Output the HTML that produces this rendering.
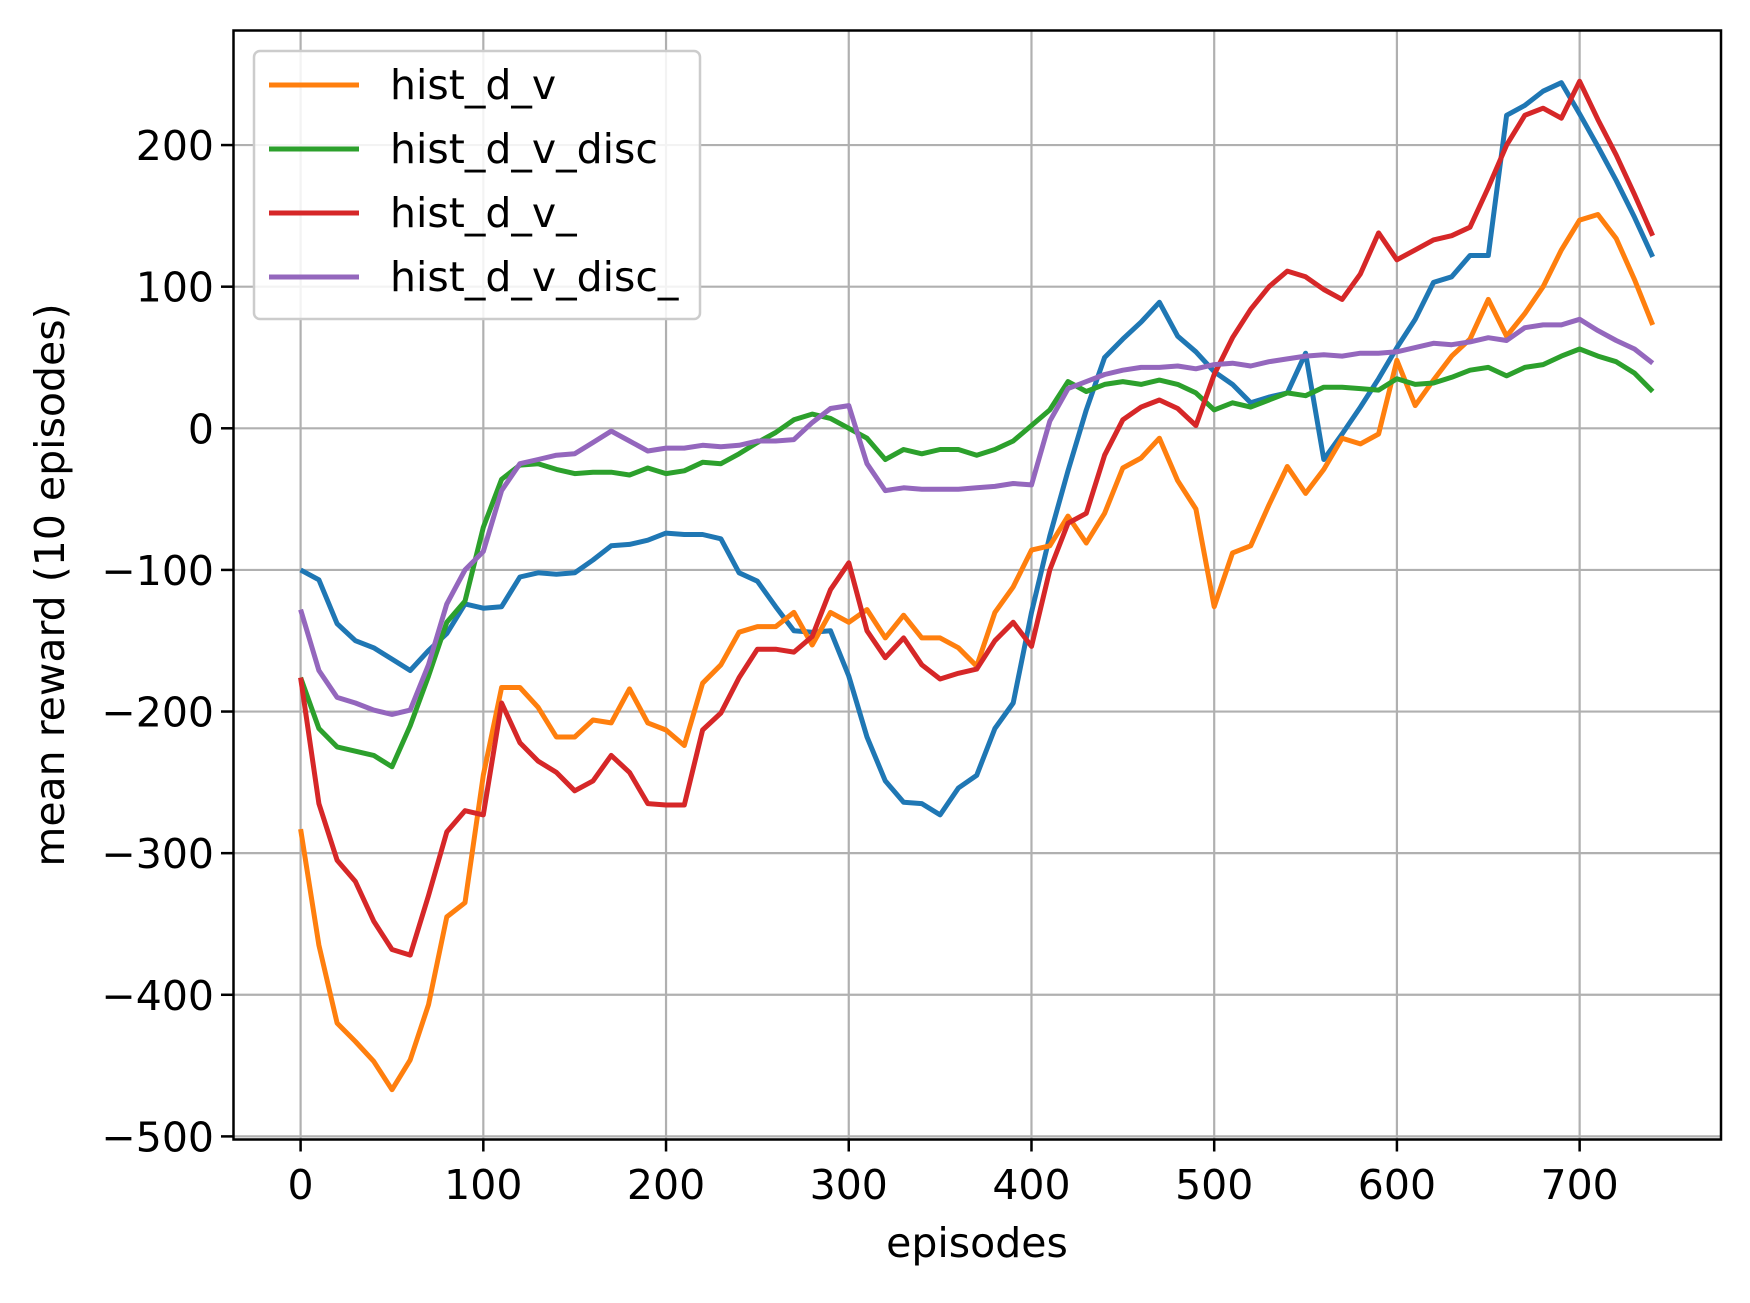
<!DOCTYPE html>
<html><head><meta charset="utf-8"><style>
html,body{margin:0;padding:0;background:#fff;}
svg text{font-family:"DejaVu Sans","Liberation Sans",sans-serif;fill:#000;}
</style></head><body>
<svg id="chart" width="1750" height="1298" viewBox="0 0 1750 1298" xmlns="http://www.w3.org/2000/svg">
<rect width="1750" height="1298" fill="#fff"/>
<g id="grid"></g>
<g id="series"></g>
<rect x="233.5" y="30.5" width="1487.5" height="1109" fill="none" stroke="#000" stroke-width="2.5"/>
<g id="ticks"></g>
<text x="977" y="1257" font-size="41" text-anchor="middle">episodes</text>
<text transform="translate(64,585) rotate(-90)" font-size="41" text-anchor="middle">mean reward (10 episodes)</text>
<g id="legend"></g>
</svg>
<script>
const episodes = Array.from({length:75},(_, i)=>i*10);
const blueVals = [-100,-107,-138,-150,-155,-163,-171,-157,-145,-124,-127,-126,-105,-102,-103,-102,-93,-83,-82,-79,-74,-75,-75,-78,-102,-108,-126,-143,-144,-143,-175,-218,-249,-264,-265,-273,-254,-245,-212,-194,-130,-76,-30,13,50,63,75,89,65,54,40,31,18,22,25,53,-22,-4,15,35,57,77,103,107,122,122,221,228,238,244,222,199,175,149,121];
const histDV = [-283,-365,-420,-433,-447,-467,-446,-407,-345,-335,-245,-183,-183,-197,-218,-218,-206,-208,-184,-208,-213,-224,-180,-167,-144,-140,-140,-130,-153,-130,-137,-128,-148,-132,-148,-148,-155,-168,-130,-112,-86,-83,-62,-81,-60,-28,-21,-7,-37,-57,-126,-88,-83,-54,-27,-46,-29,-7,-11,-4,48,16,34,51,63,91,65,81,100,126,147,151,134,105,73];
const histDVDisc = [-176,-212,-225,-228,-231,-239,-210,-175,-137,-122,-70,-36,-26,-25,-29,-32,-31,-31,-33,-28,-32,-30,-24,-25,-18,-10,-3,6,10,7,0,-7,-22,-15,-18,-15,-15,-19,-15,-9,2,13,33,26,31,33,31,34,31,25,13,18,15,20,25,23,29,29,28,27,35,31,32,36,41,43,37,43,45,51,56,51,47,39,26];
const histDV_ = [-176,-265,-305,-320,-348,-368,-372,-330,-285,-270,-273,-194,-222,-235,-243,-256,-249,-231,-243,-265,-266,-266,-213,-201,-176,-156,-156,-158,-147,-114,-95,-143,-162,-148,-167,-177,-173,-170,-150,-137,-154,-100,-67,-60,-19,6,15,20,14,2,38,64,84,100,111,107,98,91,109,138,119,126,133,136,142,170,200,221,226,219,245,218,193,165,136];
const histDVDisc_ = [-128,-171,-190,-194,-199,-202,-199,-167,-124,-100,-87,-44,-25,-22,-19,-18,-10,-2,-9,-16,-14,-14,-12,-13,-12,-9,-9,-8,4,14,16,-25,-44,-42,-43,-43,-43,-42,-41,-39,-40,5,28,33,38,41,43,43,44,42,45,46,44,47,49,51,52,51,53,53,54,57,60,59,61,64,62,71,73,73,77,69,62,56,46];
const xTicks = [0,100,200,300,400,500,600,700];
const yTicks = [-500,-400,-300,-200,-100,0,100,200];
const yTickLabels = ["\u2212500","\u2212400","\u2212300","\u2212200","\u2212100","0","100","200"];
const legendLabels = ["hist_d_v","hist_d_v_disc","hist_d_v_","hist_d_v_disc_"];

const X = e => 300.6 + e*1.8272;
const Y = v => 428.3 - v*1.4162;
const NS="http://www.w3.org/2000/svg";
function mk(tag, attrs, parent){const el=document.createElementNS(NS,tag);for(const k in attrs)el.setAttribute(k,attrs[k]);parent.appendChild(el);return el;}
const grid=document.getElementById('grid'), ticks=document.getElementById('ticks'), series=document.getElementById('series'), legend=document.getElementById('legend');
xTicks.forEach(t=>{
  const g=mk('line',{x1:X(t),x2:X(t),y1:30,y2:1139.5,stroke:'#b0b0b0','stroke-width':2.2},grid);
  
  
  const tk=mk('line',{x1:X(t),x2:X(t),y1:1139.5,y2:1151.5,stroke:'#000','stroke-width':2.5},ticks);
  
  
  const tx=mk('text',{x:X(t),y:1199,'font-size':41,'text-anchor':'middle'},ticks);
  tx.textContent=t;
  
  
});
yTicks.forEach((t,i)=>{
  const g=mk('line',{x1:233,x2:1721,y1:Y(t),y2:Y(t),stroke:'#b0b0b0','stroke-width':2.2},grid);
  
  
  const tk=mk('line',{x1:221,x2:233,y1:Y(t),y2:Y(t),stroke:'#000','stroke-width':2.5},ticks);
  
  
  const tx=mk('text',{x:214,y:Y(t)+15,'font-size':41,'text-anchor':'end'},ticks);
  tx.textContent=yTickLabels[i];
  
  
});
const defs=[["series-blue",blueVals,"#1f77b4"],["series-hist-d-v",histDV,"#ff7f0e"],["series-hist-d-v-disc",histDVDisc,"#2ca02c"],["series-hist-d-v-underscore",histDV_,"#d62728"],["series-hist-d-v-disc-underscore",histDVDisc_,"#9467bd"]];
defs.forEach(([name,vals,col])=>{
  const p=mk('polyline',{points:vals.map((v,i)=>X(episodes[i]).toFixed(1)+','+Y(v).toFixed(1)).join(' '),fill:'none',stroke:col,'stroke-width':5,'stroke-linejoin':'round'},series);
  
  
});
const lb=mk('rect',{x:254,y:51,width:446,height:268,rx:6,fill:'#fff','fill-opacity':0.85,stroke:'#cccccc','stroke-width':2.5},legend);


const legCols=["#ff7f0e","#2ca02c","#d62728","#9467bd"];
legendLabels.forEach((l,i)=>{
  const y=85+i*64;
  const ln=mk('line',{x1:269,x2:359,y1:y,y2:y,stroke:legCols[i],'stroke-width':5},legend);
  
  
  const t=mk('text',{x:390,y:y+14,'font-size':41},legend);
  t.textContent=l;
  
  
});
</script>
</body></html>
